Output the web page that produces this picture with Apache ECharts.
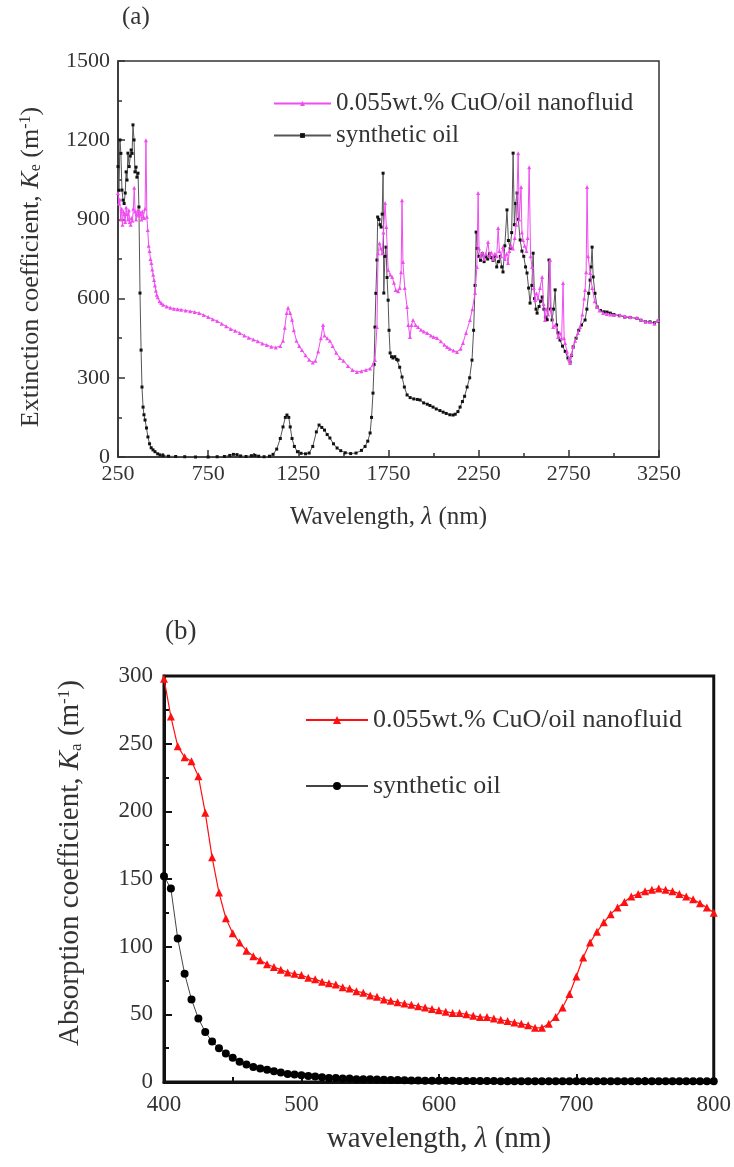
<!DOCTYPE html>
<html><head><meta charset="utf-8">
<script src="https://cdn.jsdelivr.net/npm/echarts@6/dist/echarts.min.js"></script>
<style>html,body{margin:0;padding:0;background:#fff}#c{width:734px;height:1167px}</style>
</head><body><div id="c"></div>
<script>
// ---------- Panel (a): extinction coefficient, [wavelength nm, Ke m^-1] ----------
const nanoA = [
[250,1000],[255,960],[260,975],[265,900],[270,940],[275,880],[280,930],[285,920],[290,890],[295,945],
[300,920],[305,900],[310,935],[315,890],[320,880],[325,905],[330,895],[335,940],[340,1020],[345,930],
[350,900],[355,920],[360,935],[365,915],[370,930],[375,920],[380,900],[385,930],[390,910],[395,905],
[400,940],[405,1200],[410,910],[415,860],[420,800],[425,780],[430,750],[435,735],[440,710],[445,690],
[450,670],[455,650],[460,630],[465,615],[470,605],[480,590],[490,583],[500,577],[520,570],[540,565],
[560,562],[580,560],[600,558],[625,555],[650,552],[675,549],[700,545],[725,538],[750,530],[775,522],
[800,515],[825,505],[850,495],[875,485],[900,478],[925,470],[950,460],[975,452],[1000,445],[1025,438],
[1050,430],[1075,424],[1100,418],[1125,415],[1150,420],[1165,440],[1175,490],[1185,545],[1193,565],[1205,545],
[1215,520],[1225,480],[1240,440],[1255,420],[1270,405],[1290,385],[1310,368],[1330,358],[1345,365],[1360,400],
[1375,450],[1387,500],[1395,460],[1410,450],[1425,440],[1440,420],[1460,395],[1480,375],[1500,365],[1525,345],
[1550,330],[1575,322],[1600,325],[1625,330],[1648,335],[1664,350],[1675,367],[1686,492],[1692,772],[1700,810],
[1708,790],[1715,772],[1722,850],[1731,962],[1738,871],[1748,708],[1760,690],[1770,682],[1780,660],[1790,633],
[1803,628],[1812,640],[1820,700],[1825,973],[1830,739],[1840,640],[1853,568],[1860,500],[1869,455],[1878,500],
[1886,519],[1900,500],[1914,492],[1930,482],[1945,475],[1964,470],[1985,460],[2000,455],[2019,451],[2040,438],
[2060,425],[2075,417],[2090,410],[2110,403],[2130,398],[2150,410],[2163,432],[2180,470],[2202,519],[2215,560],
[2230,621],[2240,720],[2247,1000],[2252,790],[2260,760],[2270,775],[2280,750],[2290,770],[2302,814],[2310,760],
[2320,775],[2330,750],[2340,770],[2350,760],[2358,867],[2365,780],[2375,760],[2385,795],[2395,750],[2405,770],
[2413,735],[2420,780],[2430,800],[2440,790],[2450,830],[2458,880],[2469,1151],[2475,900],[2485,1023],[2490,850],
[2496,822],[2505,800],[2515,780],[2522,830],[2530,1098],[2538,760],[2546,720],[2555,640],[2563,595],[2570,620],
[2580,600],[2590,640],[2602,682],[2610,580],[2618,519],[2625,560],[2635,540],[2646,746],[2652,560],[2663,492],
[2675,500],[2690,455],[2700,470],[2710,450],[2718,659],[2724,450],[2729,432],[2740,400],[2750,370],[2757,356],
[2765,390],[2774,417],[2785,440],[2800,470],[2812,492],[2825,540],[2835,600],[2840,633],[2846,700],[2851,1023],
[2857,760],[2868,697],[2880,640],[2893,590],[2907,568],[2920,555],[2940,545],[2960,542],[2980,540],[3000,538],
[3034,538],[3060,532],[3090,530],[3128,527],[3150,520],[3175,512],[3200,511],[3225,505],[3245,519]
];
const oilA = [
[250,1100],[255,1010],[261,1201],[266,1150],[272,1011],[278,973],[284,960],[290,1000],[295,1080],[300,1049],
[305,1151],[312,1100],[318,1140],[323,1163],[328,1150],[333,1258],[339,1201],[344,1080],[350,1098],[355,1060],
[361,1075],[366,947],[372,621],[378,405],[383,265],[389,189],[394,160],[400,140],[408,110],[416,76],
[425,50],[434,35],[444,27],[455,20],[470,12],[483,8],[500,5],[530,3],[570,2],[620,1],
[680,0],[750,0],[800,1],[840,2],[870,6],[890,10],[910,9],[930,4],[960,2],[990,5],
[1010,6],[1030,3],[1060,1],[1090,3],[1110,10],[1130,30],[1150,70],[1165,114],[1178,150],[1187,159],
[1197,150],[1205,114],[1215,70],[1228,40],[1245,20],[1265,14],[1290,12],[1310,15],[1330,40],[1350,95],
[1365,121],[1380,112],[1395,102],[1410,85],[1425,72],[1445,50],[1465,34],[1485,24],[1510,16],[1540,13],
[1570,15],[1600,25],[1620,40],[1635,60],[1648,91],[1656,150],[1664,242],[1670,350],[1675,492],[1680,620],
[1686,746],[1690,909],[1697,900],[1703,880],[1709,871],[1715,920],[1720,1075],[1724,621],[1730,760],[1736,795],
[1742,680],[1748,594],[1753,480],[1759,394],[1767,380],[1775,375],[1785,380],[1795,370],[1803,367],[1812,340],
[1825,303],[1838,265],[1853,235],[1870,225],[1890,220],[1910,218],[1925,216],[1945,205],[1965,200],[1980,195],
[1997,189],[2015,182],[2035,176],[2053,170],[2070,165],[2090,160],[2108,159],[2120,162],[2135,172],[2147,189],
[2160,210],[2172,230],[2186,265],[2200,300],[2213,367],[2222,480],[2230,650],[2236,852],[2242,790],[2250,760],
[2260,745],[2270,770],[2280,740],[2290,760],[2300,750],[2310,770],[2320,755],[2330,745],[2340,760],[2350,720],
[2360,740],[2370,760],[2378,720],[2385,701],[2395,800],[2407,936],[2415,820],[2425,790],[2433,850],[2441,1151],
[2448,880],[2455,960],[2463,1000],[2470,900],[2480,822],[2490,780],[2500,760],[2510,720],[2518,697],[2527,640],
[2535,583],[2545,650],[2552,772],[2560,600],[2568,560],[2574,545],[2585,570],[2593,590],[2602,606],[2612,560],
[2620,530],[2630,520],[2640,746],[2648,560],[2657,519],[2665,560],[2674,633],[2682,500],[2690,470],[2701,443],
[2715,420],[2730,400],[2745,375],[2757,360],[2765,385],[2774,417],[2790,450],[2805,480],[2820,500],[2840,519],
[2850,560],[2860,620],[2868,670],[2873,720],[2879,795],[2885,682],[2895,620],[2907,568],[2925,555],[2945,550],
[2962,549],[2980,545],[3000,540],[3030,535],[3060,530],[3090,528],[3128,525],[3150,518],[3175,512],[3200,512],
[3225,508],[3245,515]
];
const xTicksA = [250, 750, 1250, 1750, 2250, 2750, 3250];
const xMinorA = [500, 1000, 1500, 2000, 2500, 3000];

// ---------- Panel (b): absorption coefficient, [wavelength nm, Ka m^-1] ----------
const nanoB = [
[400,298],[405,270],[410,248],[415,240],[420,237],[425,226],[430,199],[435,166],[440,140],[445,121],
[450,110],[455,103],[460,97],[465,93],[470,90],[475,87],[480,85],[485,83],[490,81],[495,80],
[500,79],[505,77],[510,76],[515,74],[520,73],[525,72],[530,70],[535,69],[540,67],[545,66],
[550,64],[555,63],[560,61],[565,60],[570,59],[575,58],[580,57],[585,56],[590,55],[595,54],
[600,53],[605,52],[610,51],[615,51],[620,50],[625,49],[630,48],[635,48],[640,47],[645,46],
[650,45],[655,44],[660,43],[665,42],[670,40],[675,40],[680,43],[685,48],[690,55],[695,65],
[700,78],[705,92],[710,103],[715,111],[720,118],[725,124],[730,129],[735,133],[740,137],[745,139],
[750,141],[755,142],[760,143],[765,142],[770,141],[775,139],[780,137],[785,135],[790,132],[795,129],[800,125]
];
const oilB = [
[400,152],[405,143],[410,106],[415,80],[420,61],[425,47],[430,37],[435,30],[440,25],[445,21],
[450,18],[455,15],[460,13],[465,11],[470,10],[475,9],[480,8],[485,7],[490,6],[495,5.5],
[500,5],[505,4.5],[510,4],[515,3.5],[520,3],[525,3],[530,2.5],[535,2.5],[540,2],[545,2],
[550,2],[555,1.8],[560,1.6],[565,1.5],[570,1.4],[575,1.3],[580,1.2],[585,1.1],[590,1],[595,1],
[600,1],[605,0.9],[610,0.9],[615,0.8],[620,0.8],[625,0.8],[630,0.7],[635,0.7],[640,0.7],[645,0.6],
[650,0.6],[655,0.6],[660,0.6],[665,0.5],[670,0.5],[675,0.5],[680,0.5],[685,0.5],[690,0.5],[695,0.5],
[700,0.5],[705,0.5],[710,0.5],[715,0.5],[720,0.5],[725,0.5],[730,0.5],[735,0.5],[740,0.5],[745,0.5],
[750,0.5],[755,0.5],[760,0.5],[765,0.5],[770,0.5],[775,0.5],[780,0.5],[785,0.5],[790,0.5],[795,0.5],[800,0.5]
];

const NANO = '0.055wt.% CuO/oil nanofluid';
const OIL = 'synthetic oil';
const FONT = 'Liberation Serif';
const TXT = '#333';
const plain = v => String(v);

const chart = echarts.init(document.getElementById('c'), null, {renderer: 'canvas'});

function rich(fs) {
  const s = Math.round(fs * 0.6);
  const p = Math.round(fs * 0.4);
  return {
    i: {fontStyle: 'italic', fontFamily: FONT, fontSize: fs, color: TXT},
    sub: {fontFamily: FONT, fontSize: s, color: TXT, verticalAlign: 'bottom', padding: [p, 0, 0, 0]},
    sup: {fontFamily: FONT, fontSize: s, color: TXT, verticalAlign: 'top', padding: [0, 0, p, 0]}
  };
}

chart.setOption({
  backgroundColor: '#fff',
  animation: false,
  textStyle: {fontFamily: FONT},
  graphic: [
    {type: 'text', left: 122, top: 5, style: {text: '(a)', font: '25px "Liberation Serif"', fill: TXT}},
    {type: 'text', left: 165, top: 618, style: {text: '(b)', font: '27px "Liberation Serif"', fill: TXT}}
  ],
  legend: [
    {
      orient: 'vertical', left: 268, top: 86, itemWidth: 57, itemHeight: 6, itemGap: 7,
      data: [NANO, OIL],
      textStyle: {fontFamily: FONT, fontSize: 25, color: TXT}
    },
    {
      orient: 'vertical', left: 300, top: 702, itemWidth: 62, itemHeight: 10, itemGap: 40,
      data: [NANO + '\u200b', OIL + '\u200b'],
      textStyle: {fontFamily: FONT, fontSize: 26, color: TXT}
    }
  ],
  grid: [
    {left: 118, top: 61, right: 75, bottom: 710, show: true, borderColor: '#333', borderWidth: 1.5, backgroundColor: 'transparent'},
    {left: 164, top: 676, right: 20, bottom: 85, show: true, borderColor: '#111', borderWidth: 3, backgroundColor: 'transparent'}
  ],
  xAxis: [
    {
      type: 'value', gridIndex: 0, min: 250, max: 3250,
      name: 'Wavelength, {i|λ} (nm)', nameLocation: 'middle', nameGap: 48,
      nameTextStyle: {fontFamily: FONT, fontSize: 25, color: TXT, rich: rich(25)},
      axisLine: {show: true, onZero: false, lineStyle: {color: '#333', width: 1.5}},
      axisTick: {show: true, inside: true, length: 7, customValues: xTicksA, lineStyle: {color: '#333', width: 1.5}},
      axisLabel: {customValues: xTicksA, formatter: plain, fontFamily: FONT, fontSize: 22, color: TXT, margin: 6},
      splitLine: {show: false}
    },
    {
      type: 'value', gridIndex: 0, min: 250, max: 3250, position: 'bottom',
      axisLine: {show: false},
      axisTick: {show: true, inside: true, length: 4, customValues: xMinorA, lineStyle: {color: '#333', width: 1.5}},
      axisLabel: {show: false}, splitLine: {show: false}
    },
    {
      type: 'value', gridIndex: 1, min: 400, max: 800, interval: 100,
      name: 'wavelength, {i|λ} (nm)', nameLocation: 'middle', nameGap: 43,
      nameTextStyle: {fontFamily: FONT, fontSize: 29, color: TXT, rich: rich(29)},
      axisLine: {show: true, onZero: false, lineStyle: {color: '#111', width: 3}},
      axisTick: {show: true, inside: true, length: 8, lineStyle: {color: '#111', width: 2}},
      minorTick: {show: true, splitNumber: 2, length: 5, lineStyle: {color: '#111', width: 2}},
      axisLabel: {formatter: plain, fontFamily: FONT, fontSize: 23, color: TXT, margin: 11},
      splitLine: {show: false}, minorSplitLine: {show: false}
    }
  ],
  yAxis: [
    {
      type: 'value', gridIndex: 0, min: 0, max: 1500, interval: 300,
      name: 'Extinction coefficient, {i|K}{sub|e} (m{sup|-1})', nameLocation: 'middle', nameGap: 74,
      nameTextStyle: {fontFamily: FONT, fontSize: 26, color: TXT, rich: rich(26), padding: [0, 16, 0, 0]},
      axisLine: {show: true, onZero: false, lineStyle: {color: '#333', width: 1.5}},
      axisTick: {show: true, inside: true, length: 7, lineStyle: {color: '#333', width: 1.5}},
      minorTick: {show: true, splitNumber: 2, length: 4, lineStyle: {color: '#333', width: 1.5}},
      axisLabel: {formatter: plain, fontFamily: FONT, fontSize: 22, color: TXT, margin: 8},
      splitLine: {show: false}, minorSplitLine: {show: false}
    },
    {
      type: 'value', gridIndex: 1, min: 0, max: 300, interval: 50,
      name: 'Absorption coefficient, {i|K}{sub|a} (m{sup|-1})', nameLocation: 'middle', nameGap: 79,
      nameTextStyle: {fontFamily: FONT, fontSize: 29, color: TXT, rich: rich(29), padding: [0, 0, 0, 32]},
      axisLine: {show: true, onZero: false, lineStyle: {color: '#111', width: 3}},
      axisTick: {show: true, inside: true, length: 8, lineStyle: {color: '#111', width: 2}},
      minorTick: {show: true, splitNumber: 2, length: 5, lineStyle: {color: '#111', width: 2}},
      axisLabel: {formatter: plain, fontFamily: FONT, fontSize: 23, color: TXT, margin: 11},
      splitLine: {show: false}, minorSplitLine: {show: false}
    }
  ],
  series: [
    {
      name: NANO, type: 'line', xAxisIndex: 0, yAxisIndex: 0, data: nanoA,
      symbol: 'triangle', symbolSize: 4, showAllSymbol: true,
      lineStyle: {color: '#f04cf0', width: 1}, itemStyle: {color: '#f04cf0'}, z: 3
    },
    {
      name: OIL, type: 'line', xAxisIndex: 0, yAxisIndex: 0, data: oilA,
      symbol: 'rect', symbolSize: 3, showAllSymbol: true,
      lineStyle: {color: '#555', width: 1}, itemStyle: {color: '#111'}, z: 2
    },
    {
      name: NANO + '\u200b', type: 'line', xAxisIndex: 2, yAxisIndex: 1, data: nanoB,
      symbol: 'triangle', symbolSize: 8, showAllSymbol: true,
      lineStyle: {color: '#ff1010', width: 1.2}, itemStyle: {color: '#ff1010'}, z: 3
    },
    {
      name: OIL + '\u200b', type: 'line', xAxisIndex: 2, yAxisIndex: 1, data: oilB,
      symbol: 'circle', symbolSize: 8, showAllSymbol: true,
      lineStyle: {color: '#444', width: 1}, itemStyle: {color: '#000'}, z: 2
    }
  ]
});
</script>
</body></html>
